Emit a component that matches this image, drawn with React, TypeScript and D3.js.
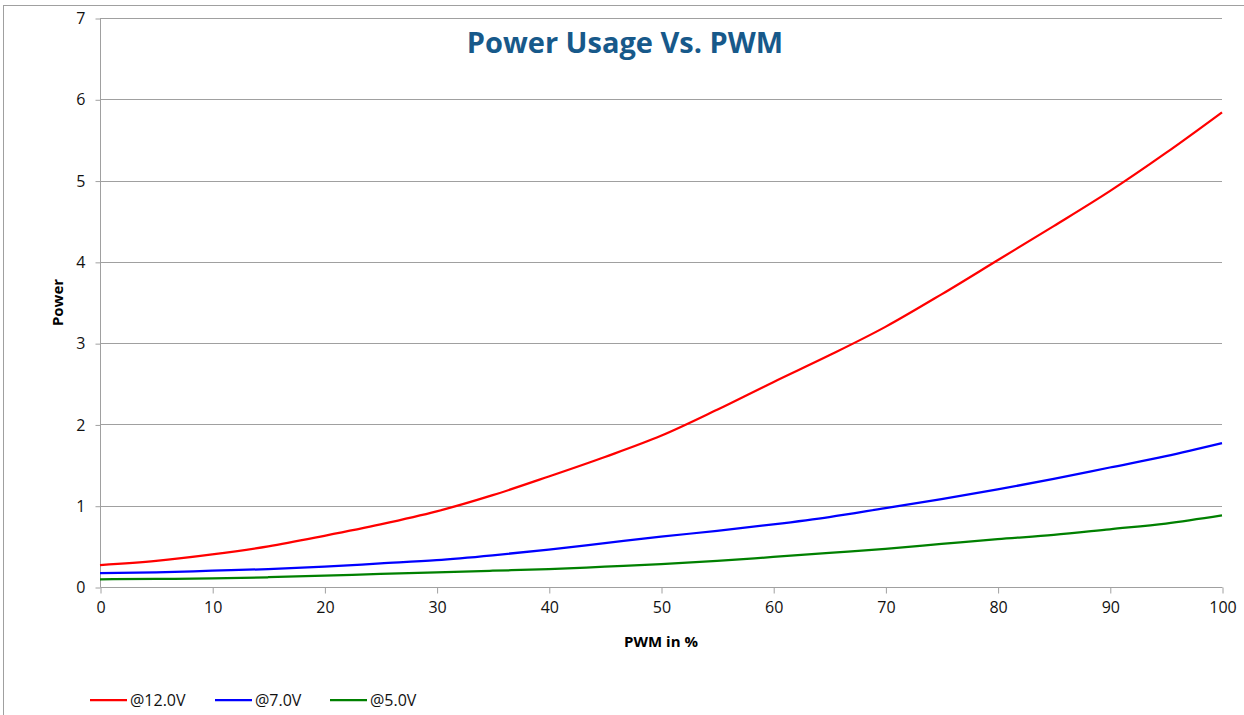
import React, { useEffect, useRef } from "react";
import * as d3 from "d3";

const pwm = [0, 5, 10, 15, 20, 25, 30, 35, 40, 45, 50, 55, 60, 65, 70, 75, 80, 85, 90, 95, 100];
const power12v = [0.27, 0.32, 0.4, 0.5, 0.63, 0.77, 0.93, 1.13, 1.36, 1.6, 1.86, 2.18, 2.52, 2.85, 3.2, 3.6, 4.02, 4.44, 4.87, 5.34, 5.84];
const power7v = [0.17, 0.18, 0.2, 0.22, 0.25, 0.29, 0.33, 0.39, 0.46, 0.54, 0.62, 0.69, 0.77, 0.86, 0.97, 1.08, 1.2, 1.33, 1.47, 1.61, 1.77];
const power5v = [0.095, 0.1, 0.105, 0.12, 0.14, 0.16, 0.18, 0.2, 0.22, 0.25, 0.28, 0.32, 0.37, 0.42, 0.47, 0.53, 0.59, 0.64, 0.71, 0.78, 0.88];
const seriesNames = ["@12.0V", "@7.0V", "@5.0V"];
const seriesColors = ["#ff0000", "#0000ff", "#008000"];
const xTicks = [0, 10, 20, 30, 40, 50, 60, 70, 80, 90, 100];
const yTicks = [0, 1, 2, 3, 4, 5, 6, 7];

export default function App() {
  const ref = useRef<SVGSVGElement>(null);

  useEffect(() => {
    const width = 1244;
    const height = 715;
    const margin = { top: 18, right: 22, bottom: 128, left: 100 };
    const font = "'Open Sans', 'Liberation Sans', sans-serif";
    const grid = "#a0a0a0";

    const svg = d3.select(ref.current);
    svg.selectAll("*").remove();

    // outer chart border (runs off the right and bottom edges)
    svg.append("rect")
      .attr("x", 3.5).attr("y", 5.5)
      .attr("width", width + 20).attr("height", height + 20)
      .attr("fill", "white").attr("stroke", grid).attr("stroke-width", 1);

    const x = d3.scaleLinear().domain([0, 100]).range([margin.left, width - margin.right]);
    const y = d3.scaleLinear().domain([0, 7]).range([height - margin.bottom, margin.top]);

    // horizontal gridlines
    svg.append("g")
      .selectAll("line")
      .data(yTicks.filter((d) => d > 0))
      .join("line")
      .attr("x1", x(0)).attr("x2", x(100))
      .attr("y1", (d) => Math.round(y(d)) + 0.5).attr("y2", (d) => Math.round(y(d)) + 0.5)
      .attr("stroke", grid);

    const yAxis = svg.append("g")
      .attr("transform", `translate(${x(0) + 0.5},0.5)`)
      .call(d3.axisLeft(y).tickValues(yTicks).tickSize(5).tickPadding(10).tickFormat(d3.format("d")));
    yAxis.select(".domain").attr("stroke", grid).attr("d", `M0,${y(7)}V${y(0)}`);
    yAxis.selectAll(".tick line").attr("stroke", grid);
    yAxis.selectAll(".tick text").attr("font-family", font).attr("font-size", 16).attr("fill", "#111");

    const xAxis = svg.append("g")
      .attr("transform", `translate(0.5,${y(0) + 0.5})`)
      .call(d3.axisBottom(x).tickValues(xTicks).tickSize(6).tickPadding(8).tickFormat(d3.format("d")));
    xAxis.select(".domain").attr("stroke", grid).attr("d", `M${x(0)},0H${x(100)}`);
    xAxis.selectAll(".tick line").attr("stroke", grid);
    xAxis.selectAll(".tick text").attr("font-family", font).attr("font-size", 16).attr("fill", "#111");

    const series = [power12v, power7v, power5v];
    const line = d3.line<number>()
      .x((_, i) => x(pwm[i]))
      .y((d) => y(d))
      .curve(d3.curveMonotoneX);

    series.forEach((vals, i) => {
      svg.append("path")
        .datum(vals)
        .attr("fill", "none")
        .attr("stroke", seriesColors[i])
        .attr("stroke-width", 2.25)
        .attr("stroke-linejoin", "round")
        .attr("d", line);
    });

    svg.append("text")
      .attr("x", 625).attr("y", 53)
      .attr("text-anchor", "middle")
      .attr("font-family", font).attr("font-weight", "bold").attr("font-size", 29)
      .attr("fill", "#17598a")
      .text("Power Usage Vs. PWM");

    svg.append("text")
      .attr("transform", `translate(63,${(y(0) + y(7)) / 2}) rotate(-90)`)
      .attr("text-anchor", "middle")
      .attr("font-family", font).attr("font-weight", "bold").attr("font-size", 15)
      .text("Power");

    svg.append("text")
      .attr("x", 661).attr("y", 647)
      .attr("text-anchor", "middle")
      .attr("font-family", font).attr("font-weight", "bold").attr("font-size", 15)
      .text("PWM in %");

    const legendX = [90, 215, 330];
    const legend = svg.append("g")
      .selectAll("g")
      .data(seriesNames)
      .join("g")
      .attr("transform", (_, i) => `translate(${legendX[i]},700)`);
    legend.append("line")
      .attr("x1", 0).attr("x2", 37)
      .attr("stroke", (_, i) => seriesColors[i]).attr("stroke-width", 2.25);
    legend.append("text")
      .attr("x", 40).attr("y", 6)
      .attr("font-family", font).attr("font-size", 16).attr("fill", "#111")
      .text((d) => d);
  }, []);

  return (
    <svg
      ref={ref}
      width={1244}
      height={715}
      style={{ position: "absolute", left: 0, top: 0, background: "white" }}
    />
  );
}
